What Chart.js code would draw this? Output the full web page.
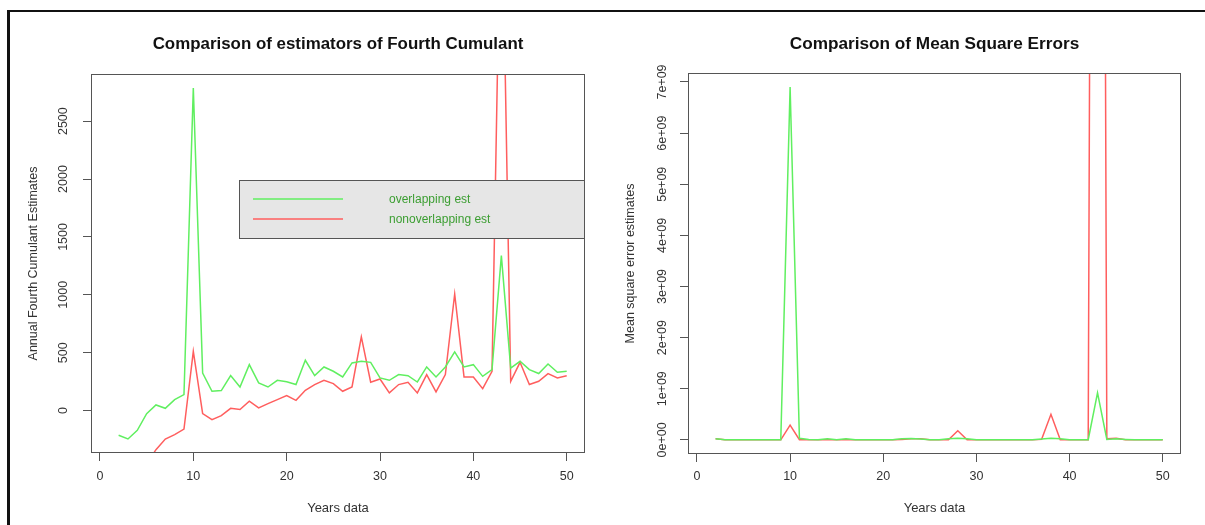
<!DOCTYPE html>
<html>
<head>
<meta charset="utf-8">
<script src="https://cdn.jsdelivr.net/npm/chart.js@4.4.0/dist/chart.umd.min.js"></script>
<style>
  html, body { margin: 0; padding: 0; background: #fff; width: 1205px; height: 525px; overflow: hidden; }
  #frame { position: absolute; left: 7px; top: 10px; width: 1300px; height: 600px; border-top: 2px solid #111; border-left: 3px solid #111; }
  canvas { position: absolute; top: 0; }
  #left { left: 0; }
  #right { left: 600px; }
</style>
</head>
<body>
<div id="frame"></div>
<canvas id="left" width="600" height="525"></canvas>
<canvas id="right" width="605" height="525"></canvas>
<script>
const FONT = "'Liberation Sans', Arial, sans-serif";

// years of data (x)
const years = [1, 2, 3, 4, 5, 6, 7, 8, 9, 10, 11, 12, 13, 14, 15, 16, 17, 18, 19, 20,
  21, 22, 23, 24, 25, 26, 27, 28, 29, 30, 31, 32, 33, 34, 35, 36, 37, 38, 39, 40,
  41, 42, 43, 44, 45, 46, 47, 48, 49, 50];

// fourth cumulant estimates
const overlapEst = [null, -213, -245, -170, -26, 49, 20, 95, 138, 2786,
  325, 167, 173, 302, 204, 397, 239, 204, 262, 250,
  225, 435, 302, 377, 340, 291, 412, 426, 417, 282,
  262, 311, 302, 247, 377, 291, 377, 507, 377, 397,
  296, 354, 1338, 368, 426, 354, 320, 403, 331, 340];
const nonOverlapEst = [null, -1500, -1100, -800, -460, -337, -245, -207, -160, 512,
  -26, -78, -43, 20, 9, 81, 23, 60, 95, 130,
  89, 176, 225, 262, 233, 167, 204, 636, 245, 273,
  153, 225, 245, 153, 311, 161, 311, 1007, 291, 291,
  190, 340, 4800, 253, 417, 225, 253, 320, 282, 302];

// mean square errors
const overlapMse = [null, 2e7, 3e6, 3e6, 3e6, 3e6, 3e6, 3e6, 3e6, 6.9e9,
  3e7, 1e7, 3e6, 2e7, 3e6, 2e7, 3e6, 3e6, 3e6, 3e6,
  3e6, 2e7, 2.5e7, 1.5e7, 3e6, 3e6, 2e7, 3e7, 2e7, 3e6,
  3e6, 3e6, 3e6, 3e6, 3e6, 3e6, 1.5e7, 3e7, 2e7, 3e6,
  3e6, 3e6, 9.2e8, 1e7, 2e7, 1e7, 3e6, 3e6, 3e6, 3e6];
const nonOverlapMse = [null, 2e7, 2e6, 2e6, 2e6, 2e6, 2e6, 2e6, 2e6, 2.9e8,
  5e6, 2e6, 2e6, 2e6, 2e6, 2e6, 2e6, 2e6, 2e6, 2e6,
  2e6, 1e7, 2e7, 2e7, 2e6, 2e6, 2e6, 1.8e8, 2e6, 2e6,
  2e6, 2e6, 2e6, 2e6, 2e6, 2e6, 1e7, 5e8, 2e6, 2e6,
  2e6, 2e6, 5e10, 2e7, 3e7, 5e6, 2e6, 2e6, 2e6, 2e6];

// axis ticks
const yearTicks = [0, 10, 20, 30, 40, 50];
const estTicks = [0, 500, 1000, 1500, 2000, 2500];
const mseTicks = [0, 1e9, 2e9, 3e9, 4e9, 5e9, 6e9, 7e9];
const mseTickLabels = ["0e+00", "1e+09", "2e+09", "3e+09", "4e+09", "5e+09", "6e+09", "7e+09"];

const legendLabels = ["overlapping est", "nonoverlapping est"];
const GREEN = "#60ef60";
const RED = "#ff5e5e";

const toPoints = (vals) => years.map((yr, i) => ({ x: yr, y: vals[i] }));

// R style box, main title and legend
const rBox = {
  id: "rBox",
  afterDatasetsDraw(chart, args, opts) {
    const { ctx, chartArea: a } = chart;
    ctx.save();
    ctx.strokeStyle = "#555";
    ctx.lineWidth = 1;
    ctx.strokeRect(Math.round(a.left) + 0.5, Math.round(a.top) + 0.5,
      Math.round(a.right - a.left) - 1, Math.round(a.bottom - a.top) - 1);
    ctx.fillStyle = "#111";
    ctx.font = "bold " + opts.titleSize + "px " + FONT;
    ctx.textAlign = "center";
    ctx.textBaseline = "middle";
    ctx.fillText(opts.title, (a.left + a.right) / 2, 44);
    if (opts.legend) {
      const L = opts.legend;
      ctx.fillStyle = "#e6e6e6";
      ctx.fillRect(L.x, L.y, a.right - L.x, L.h);
      ctx.strokeStyle = "#555";
      ctx.strokeRect(L.x + 0.5, L.y + 0.5, a.right - L.x - 1, L.h);
      const cols = [GREEN, RED];
      ctx.font = "12px " + FONT;
      ctx.textAlign = "left";
      legendLabels.forEach((lab, i) => {
        const y = L.y + 19 + i * 20;
        ctx.strokeStyle = cols[i];
        ctx.lineWidth = 1.5;
        ctx.beginPath();
        ctx.moveTo(L.x + 14, y);
        ctx.lineTo(L.x + 104, y);
        ctx.stroke();
        ctx.fillStyle = "#3c9e32";
        ctx.fillText(lab, L.x + 150, y + 1);
      });
    }
    ctx.restore();
  },
};

function makeChart(id, cfg) {
  return new Chart(document.getElementById(id), {
    type: "line",
    data: {
      datasets: [
        { data: toPoints(cfg.green), borderColor: GREEN, borderWidth: 1.5, pointRadius: 0, tension: 0 },
        { data: toPoints(cfg.red), borderColor: RED, borderWidth: 1.5, pointRadius: 0, tension: 0 },
      ],
    },
    options: {
      responsive: false,
      animation: false,
      events: [],
      layout: { autoPadding: false, padding: cfg.padding },
      plugins: {
        legend: { display: false },
        tooltip: { enabled: false },
        rBox: { title: cfg.title, titleSize: cfg.titleSize, legend: cfg.legend },
      },
      scales: {
        x: {
          type: "linear",
          min: -0.96,
          max: 51.96,
          afterBuildTicks: (s) => { s.ticks = yearTicks.map((v) => ({ value: v })); },
          afterFit: (s) => { s.height = cfg.xHeight; },
          grid: { drawOnChartArea: false, tickLength: 8, color: "#555" },
          border: { display: false },
          ticks: { color: "#333", font: { family: FONT, size: 12.5 }, padding: cfg.xPad, maxRotation: 0, autoSkip: false },
          title: { display: true, text: "Years data", color: "#333", font: { family: FONT, size: 13 }, padding: { top: 0, bottom: 9 } },
        },
        y: {
          type: "linear",
          min: cfg.yMin,
          max: cfg.yMax,
          afterBuildTicks: (s) => { s.ticks = cfg.yTicks.map((v) => ({ value: v })); },
          afterFit: (s) => { s.width = cfg.yWidth; },
          grid: { drawOnChartArea: false, tickLength: 8, color: "#555" },
          border: { display: false },
          ticks: {
            color: "#333",
            font: { family: FONT, size: 12.5 },
            minRotation: 90,
            maxRotation: 90,
            crossAlign: "center",
            padding: cfg.yPad,
            autoSkip: false,
            callback: cfg.yLabel,
          },
          title: { display: true, text: cfg.yTitle, color: "#333", font: { family: FONT, size: 12.5 }, padding: { top: cfg.yTitlePad, bottom: 0 } },
        },
      },
    },
    plugins: [rBox],
  });
}

makeChart("left", {
  green: overlapEst,
  red: nonOverlapEst,
  title: "Comparison of estimators of Fourth Cumulant",
  titleSize: 16.9,
  yTitle: "Annual Fourth Cumulant Estimates",
  yMin: -366,
  yMax: 2907,
  yTicks: estTicks,
  yLabel: (v) => String(v),
  padding: { left: 0, right: 15, top: 74, bottom: 0 },
  yWidth: 91,
  xHeight: 72,
  xPad: 8.5,
  yPad: 6,
  yTitlePad: 26.5,
  legend: { x: 239, y: 180, h: 58 },
});

makeChart("right", {
  green: overlapMse,
  red: nonOverlapMse,
  title: "Comparison of Mean Square Errors",
  titleSize: 17.2,
  yTitle: "Mean square error estimates",
  yMin: -0.276e9,
  yMax: 7.176e9,
  yTicks: mseTicks,
  yLabel: (v) => mseTickLabels[mseTicks.indexOf(v)],
  padding: { left: 0, right: 24, top: 73, bottom: 0 },
  yWidth: 88,
  xHeight: 71,
  xPad: 7.5,
  yPad: 0,
  yTitlePad: 23.5,
  legend: null,
});
</script>
</body>
</html>
